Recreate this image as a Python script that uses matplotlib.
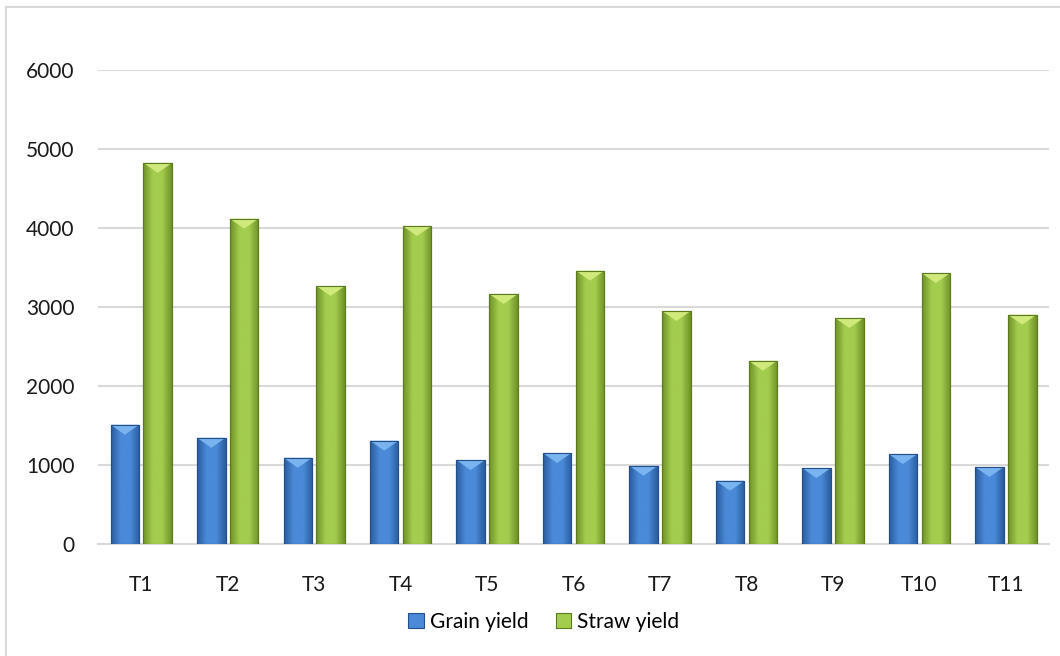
import numpy as np
import matplotlib
matplotlib.use("Agg")
import matplotlib.pyplot as plt
from matplotlib.patches import Polygon, Rectangle

treatments = ["T1", "T2", "T3", "T4", "T5", "T6", "T7", "T8", "T9", "T10", "T11"]
grain_yield = [1510, 1345, 1092, 1308, 1063, 1152, 991, 801, 962, 1139, 975]
straw_yield = [4825, 4118, 3266, 4025, 3165, 3460, 2949, 2320, 2861, 3430, 2903]

plt.rcParams["font.family"] = ["Lato", "DejaVu Sans"]

fig = plt.figure(figsize=(10.6, 6.56), dpi=100)
ax = fig.add_axes([0.0925, 0.1707, 0.8972, 0.7226])

x = np.arange(len(treatments))
w = 0.33
off = 0.19

styles = {
    "Grain yield": dict(mid="#4a8ad8", side="#2b5d9e", top="#79b4f0", edge="#24508a"),
    "Straw yield": dict(mid="#a3cd4e", side="#6f9129", top="#cfe97a", edge="#5c7a20"),
}

ax.set_xlim(-0.5, len(treatments) - 0.5)
ax.set_ylim(0, 6000)

# depth of the bevel triangle, about 10 px
px_per_unit = ax.get_position().height * fig.get_figheight() * fig.dpi / 6000
bevel = 10 / px_per_unit

handles = []
for vals, shift, name in [(grain_yield, -off, "Grain yield"), (straw_yield, off, "Straw yield")]:
    st = styles[name]
    bars = ax.bar(x + shift, vals, width=w, color=st["mid"], edgecolor=st["edge"],
                  linewidth=0.8, zorder=3, label=name)
    cmap = matplotlib.colors.LinearSegmentedColormap.from_list(
        name, [st["side"], st["mid"], st["mid"], st["side"]])
    grad = np.linspace(0, 1, 64).reshape(1, -1)
    for b in bars:
        bx, bw, bh = b.get_x(), b.get_width(), b.get_height()
        im = ax.imshow(grad, cmap=cmap, aspect="auto", extent=(bx, bx + bw, 0, bh),
                       zorder=3.5, interpolation="bicubic")
        im.set_clip_path(b)
        tri = Polygon([(bx, bh), (bx + bw, bh), (bx + bw / 2, bh - bevel)],
                      closed=True, facecolor=st["top"], edgecolor="none", zorder=4)
        ax.add_patch(tri)
        ax.add_patch(Rectangle((bx, 0), bw, bh, fill=False, edgecolor=st["edge"],
                               linewidth=0.8, zorder=4.5))
    handles.append(bars)

ax.set_xlim(-0.5, len(treatments) - 0.5)
ax.set_ylim(0, 6000)
ax.set_yticks(np.arange(0, 6001, 1000))
ax.set_xticks(x)
ax.set_xticklabels(treatments)
ax.yaxis.grid(True, color="#d9d9d9", linewidth=1.5, zorder=0)
ax.set_axisbelow(True)
for s in ["top", "right", "left"]:
    ax.spines[s].set_visible(False)
ax.spines["bottom"].set_color("#d9d9d9")
ax.spines["bottom"].set_linewidth(1.5)
ax.tick_params(axis="both", length=0, labelsize=15, colors="#1a1a1a")
ax.tick_params(axis="y", pad=17)
ax.tick_params(axis="x", pad=22)

fig.legend(handles, ["Grain yield", "Straw yield"], loc="center", bbox_to_anchor=(0.513, 0.052),
           ncol=2, frameon=False, fontsize=15, handlelength=0.75, handleheight=0.75,
           handletextpad=0.3, columnspacing=1.3)

# outer chart border
fig.patches.append(Rectangle((6 / 1060, -0.1), 1.2, 1 - 7 / 656 + 0.1, transform=fig.transFigure,
                             fill=False, edgecolor="#d9d9d9", linewidth=1.5))

fig.savefig("out.png", dpi=100)
